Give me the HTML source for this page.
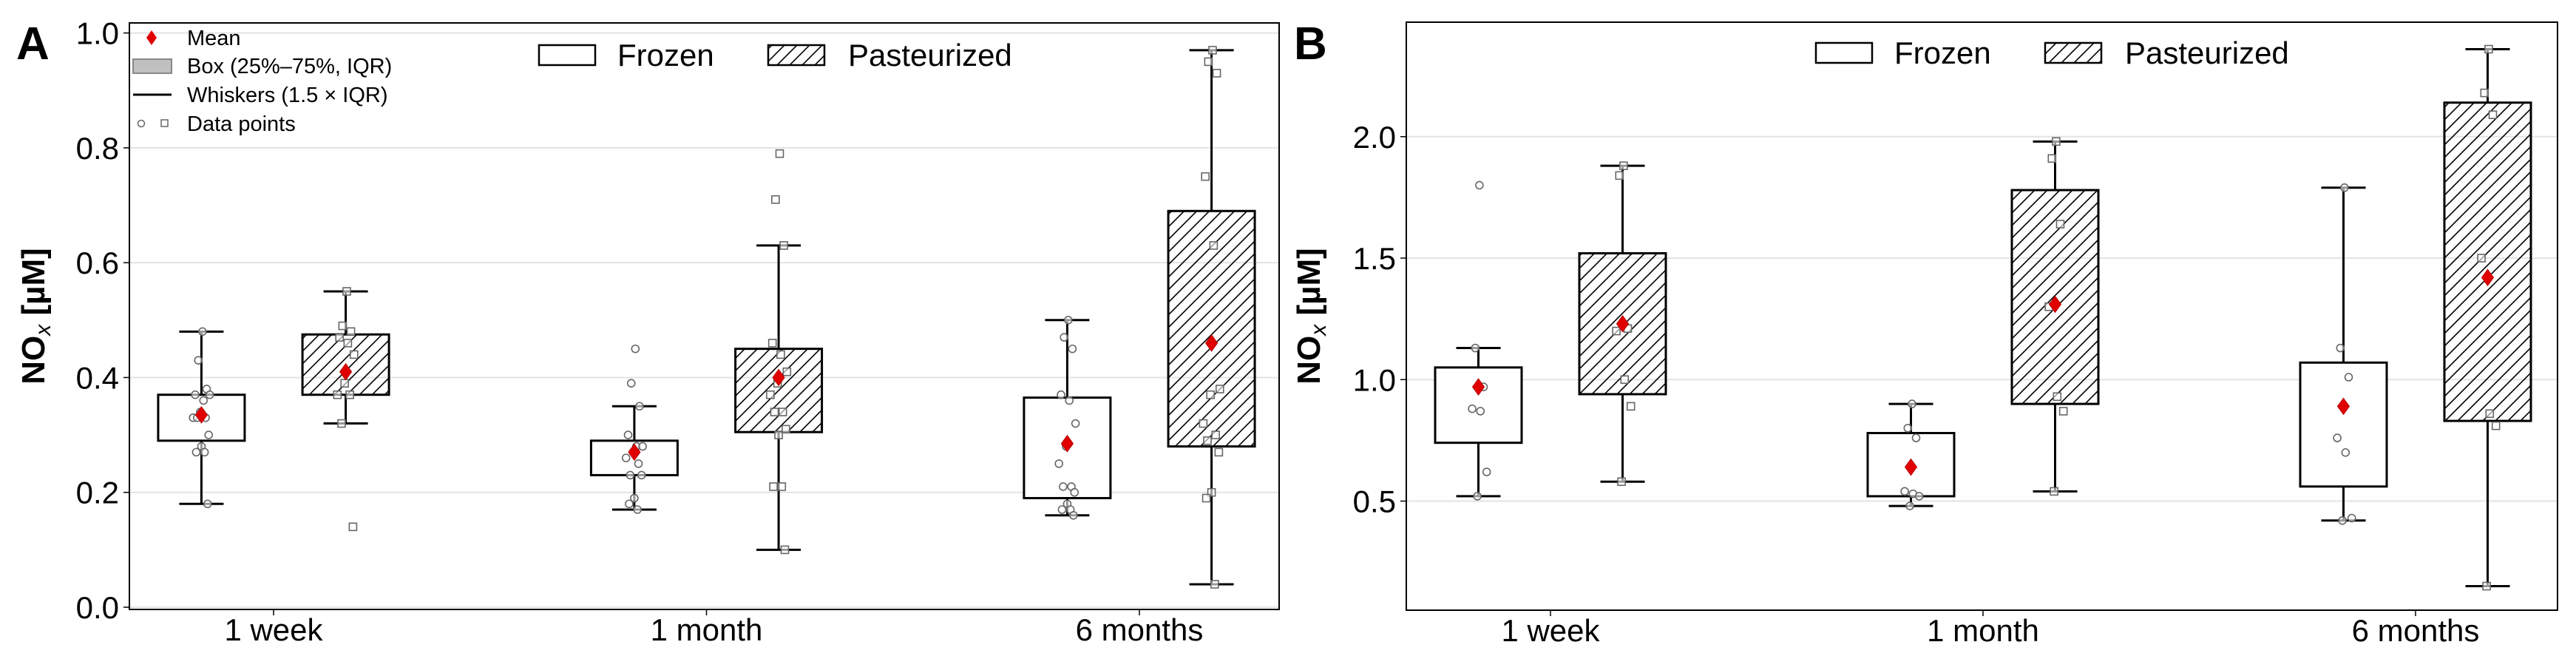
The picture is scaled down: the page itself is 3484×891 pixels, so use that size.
<!DOCTYPE html>
<html><head><meta charset="utf-8">
<style>
html,body{margin:0;padding:0;background:#fff;}
svg{display:block;font-family:"Liberation Sans",sans-serif;}
</style></head>
<body>
<svg id="fig" width="3484" height="891" viewBox="0 0 3484 891" xmlns="http://www.w3.org/2000/svg">
<defs>
<pattern id="hatch" patternUnits="userSpaceOnUse" width="17" height="17">
<path d="M-2,19 L19,-2 M-6,6 L6,-6 M11,23 L23,11" stroke="#000" stroke-width="1.6"/>
</pattern>
</defs>
</svg>
<script>
// ---------- data ----------
const categories = ["1 week", "1 month", "6 months"];
const groups = ["Frozen", "Pasteurized"];
// Panel A (NOx, µM)
const aFrozenQ1 = [0.29, 0.23, 0.19];
const aFrozenQ3 = [0.37, 0.29, 0.365];
const aFrozenLo = [0.18, 0.17, 0.16];
const aFrozenHi = [0.48, 0.35, 0.50];
const aFrozenMean = [0.335, 0.27, 0.285];
const aPastQ1 = [0.37, 0.305, 0.28];
const aPastQ3 = [0.475, 0.45, 0.69];
const aPastLo = [0.32, 0.10, 0.04];
const aPastHi = [0.55, 0.63, 0.97];
const aPastMean = [0.41, 0.40, 0.46];
const aFrozenPts = [
  [0.48,0.43,0.38,0.37,0.36,0.37,0.34,0.33,0.33,0.33,0.30,0.28,0.27,0.27,0.18],
  [0.45,0.39,0.35,0.30,0.28,0.28,0.27,0.26,0.25,0.23,0.23,0.19,0.18,0.17],
  [0.50,0.47,0.45,0.37,0.36,0.32,0.28,0.25,0.21,0.21,0.20,0.18,0.17,0.17,0.16]];
const aPastPts = [
  [0.55,0.49,0.48,0.47,0.46,0.44,0.39,0.37,0.37,0.32,0.14],
  [0.79,0.71,0.63,0.46,0.44,0.41,0.39,0.37,0.34,0.34,0.31,0.30,0.21,0.21,0.10],
  [0.97,0.95,0.93,0.75,0.63,0.38,0.37,0.32,0.30,0.29,0.27,0.20,0.19,0.04]];
const aTicks = [0.0, 0.2, 0.4, 0.6, 0.8, 1.0];
// Panel B
const bFrozenQ1 = [0.74, 0.52, 0.56];
const bFrozenQ3 = [1.05, 0.78, 1.07];
const bFrozenLo = [0.52, 0.48, 0.42];
const bFrozenHi = [1.13, 0.90, 1.79];
const bFrozenMean = [0.97, 0.64, 0.89];
const bPastQ1 = [0.94, 0.90, 0.83];
const bPastQ3 = [1.52, 1.78, 2.14];
const bPastLo = [0.58, 0.54, 0.15];
const bPastHi = [1.88, 1.98, 2.36];
const bPastMean = [1.23, 1.31, 1.42];
const bFrozenPts = [
  [1.80,1.13,0.97,0.88,0.87,0.62,0.52],
  [0.90,0.80,0.76,0.54,0.53,0.52,0.48],
  [1.79,1.13,1.01,0.76,0.70,0.43,0.42]];
const bPastPts = [
  [1.88,1.84,1.21,1.20,1.00,0.89,0.58],
  [1.98,1.91,1.64,1.30,0.93,0.87,0.54],
  [2.36,2.18,2.09,1.50,0.86,0.81,0.15]];
const bTicks = [0.5, 1.0, 1.5, 2.0];
const jitter = [0.1,-0.3,0.5,-0.6,0.2,0.8,-0.1,-0.8,0.4,-0.4,0.7,0.0,-0.5,0.3,0.6];

// ---------- drawing ----------
const svg = document.getElementById('fig');
const NS = 'http://www.w3.org/2000/svg';
function mk(tag, attrs, parent) {
  const e = document.createElementNS(NS, tag);
  for (const k in attrs) e.setAttribute(k, attrs[k]);
  (parent || svg).appendChild(e);
  return e;
}
function txt(s, attrs, parent) { const t = mk('text', attrs, parent); t.textContent = s; return t; }

function panel(cfg) {
  const g = mk('g', {});
  
  
  const L = cfg.left, R = cfg.right, T = cfg.top, B = cfg.bottom;
  const y = v => cfg.y0px - (v - cfg.y0) * cfg.ppu;
  const xc = i => cfg.x0px + i * cfg.xstep;
  const off = cfg.xstep / 6, bw = 117, cap = 60;
  cfg.ticks.forEach(t => {
    const gl = mk('line', {x1:L, x2:R, y1:y(t), y2:y(t), stroke:'#e3e3e3', 'stroke-width':2}, g);
    
    
  });
  cfg.ticks.forEach(t => {
    mk('line', {x1:L-8, x2:L, y1:y(t), y2:y(t), stroke:'#000', 'stroke-width':1.5}, g);
    const tl = txt(t.toFixed(1), {x:L-14, y:y(t)+15, 'font-size':42, 'text-anchor':'end'}, g);
    
    
  });
  categories.forEach((c, i) => {
    mk('line', {x1:xc(i), x2:xc(i), y1:B, y2:B+8, stroke:'#000', 'stroke-width':1.5}, g);
    const tl = txt(c, {x:xc(i), y:B+42, 'font-size':42, 'text-anchor':'middle'}, g);
    
    
  });
  const sets = [
    {q1:cfg.fq1, q3:cfg.fq3, lo:cfg.flo, hi:cfg.fhi, mean:cfg.fmean, pts:cfg.fpts, dx:-off, fill:'#fff', sq:false, key:'frozen'},
    {q1:cfg.pq1, q3:cfg.pq3, lo:cfg.plo, hi:cfg.phi, mean:cfg.pmean, pts:cfg.ppts, dx:off, fill:'url(#hatch)', sq:true, key:'pasteurized'}];
  sets.forEach(s => {
    categories.forEach((c, i) => {
      const cx = xc(i) + s.dx;
      const hi = y(s.hi[i]), lo = y(s.lo[i]), q1 = y(s.q1[i]), q3 = y(s.q3[i]);
      const bg = mk('g', {}, g);
      
      
      mk('line', {x1:cx, x2:cx, y1:hi, y2:q3, stroke:'#000', 'stroke-width':3}, bg);
      mk('line', {x1:cx, x2:cx, y1:q1, y2:lo, stroke:'#000', 'stroke-width':3}, bg);
      mk('line', {x1:cx-cap/2, x2:cx+cap/2, y1:hi, y2:hi, stroke:'#000', 'stroke-width':3}, bg);
      mk('line', {x1:cx-cap/2, x2:cx+cap/2, y1:lo, y2:lo, stroke:'#000', 'stroke-width':3}, bg);
      mk('rect', {x:cx-bw/2, y:q3, width:bw, height:q1-q3, fill:s.fill, stroke:'#000', 'stroke-width':3}, bg);
      s.pts[i].forEach((v, k) => {
        const px = cx + jitter[k % jitter.length] * 14;
        let m;
        if (s.sq) m = mk('rect', {x:px-5, y:y(v)-5, width:10, height:10, fill:'rgba(255,255,255,0.6)', stroke:'#666', 'stroke-width':1.6}, bg);
        else m = mk('circle', {cx:px, cy:y(v), r:5, fill:'rgba(255,255,255,0.6)', stroke:'#666', 'stroke-width':1.6}, bg);
        
        
      });
      const my = y(s.mean[i]);
      const d = mk('polygon', {points:`${cx},${my-11} ${cx+8},${my} ${cx},${my+11} ${cx-8},${my}`, fill:'#e00000', stroke:'#b00', 'stroke-width':1}, bg);
      
      
    });
  });
  const fr = mk('rect', {x:L, y:T, width:R-L, height:B-T, fill:'none', stroke:'#000', 'stroke-width':2}, g);
  
  
  const yl = txt('', {transform:`translate(${cfg.ylabX},${(T+B)/2}) rotate(-90)`, 'font-size':44, 'font-weight':'bold', 'text-anchor':'middle'}, g);
  
  
  yl.innerHTML = 'NO<tspan font-size="30" font-weight="normal" font-style="italic" dy="8">x</tspan><tspan dy="-8"> [µM]</tspan>';
  const pl = txt(cfg.letter, {x:cfg.letterX, y:80, 'font-size':62, 'font-weight':'bold'}, g);
  
  
  const lg = mk('g', {}, g);
  
  
  const lx = cfg.legX, ly = cfg.legY;
  mk('rect', {x:lx, y:ly, width:76, height:27, fill:'#fff', stroke:'#000', 'stroke-width':2.5}, lg);
  const t1 = txt(groups[0], {x:lx+106, y:ly+28, 'font-size':42}, lg);
  
  
  mk('rect', {x:lx+310, y:ly, width:76, height:27, fill:'url(#hatch)', stroke:'#000', 'stroke-width':2.5}, lg);
  const t2 = txt(groups[1], {x:lx+418, y:ly+28, 'font-size':42}, lg);
  
  
  return g;
}

panel({name:'panel-a', letter:'A', letterX:22, left:175, right:1730, top:31, bottom:824,
  y0:0, y0px:821, ppu:776.4, x0px:370, xstep:585.5, ticks:aTicks, ylabX:60, legX:729, legY:61,
  fq1:aFrozenQ1, fq3:aFrozenQ3, flo:aFrozenLo, fhi:aFrozenHi, fmean:aFrozenMean, fpts:aFrozenPts,
  pq1:aPastQ1, pq3:aPastQ3, plo:aPastLo, phi:aPastHi, pmean:aPastMean, ppts:aPastPts});
panel({name:'panel-b', letter:'B', letterX:1750, left:1902, right:3459, top:30, bottom:825,
  y0:0.5, y0px:677.5, ppu:328.5, x0px:2097, xstep:585, ticks:bTicks, ylabX:1785, legX:2456, legY:58,
  fq1:bFrozenQ1, fq3:bFrozenQ3, flo:bFrozenLo, fhi:bFrozenHi, fmean:bFrozenMean, fpts:bFrozenPts,
  pq1:bPastQ1, pq3:bPastQ3, plo:bPastLo, phi:bPastHi, pmean:bPastMean, ppts:bPastPts});

const ml = mk('g', {});


mk('polygon', {points:'205,41 212,51 205,61 198,51', fill:'#e00000'}, ml);
txt('Mean', {x:253, y:61, 'font-size':29}, ml);
mk('rect', {x:180, y:80, width:52, height:19, fill:'#c0c0c0', stroke:'#888', 'stroke-width':2}, ml);
txt('Box (25%–75%, IQR)', {x:253, y:99, 'font-size':29}, ml);
mk('line', {x1:180, x2:232, y1:128, y2:128, stroke:'#000', 'stroke-width':3}, ml);
txt('Whiskers (1.5 × IQR)', {x:253, y:138, 'font-size':29}, ml);
mk('circle', {cx:191, cy:167, r:4.5, fill:'#fff', stroke:'#666', 'stroke-width':1.5}, ml);
mk('rect', {x:218, y:162, width:9, height:9, fill:'#fff', stroke:'#666', 'stroke-width':1.5}, ml);
txt('Data points', {x:253, y:177, 'font-size':29}, ml);
</script>
</body></html>
